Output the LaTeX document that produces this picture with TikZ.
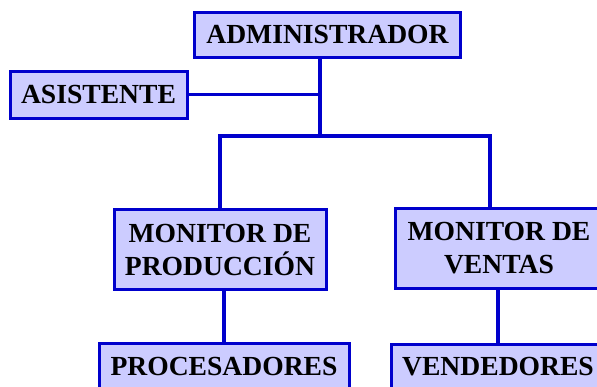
\documentclass[tikz,border=0pt]{standalone}
\usepackage{fontspec}
\setmainfont{Liberation Serif}
\usetikzlibrary{calc}
\definecolor{lineblue}{HTML}{0000CC}
\definecolor{boxfill}{HTML}{CCCCFF}
\begin{document}
\begin{tikzpicture}[x=1pt,y=-1pt,
  orgbox/.style={draw=lineblue, fill=boxfill, line width=3pt, inner sep=0pt,
    align=center, font=\fontsize{27.6}{33}\selectfont\bfseries},
  link/.style={draw=lineblue, line width=3.5pt}]
\useasboundingbox (0,0) rectangle (597,386);
\clip (0,0) rectangle (597,386);
\node[orgbox, minimum width=266pt, minimum height=45pt] (admin) at (327.5,34.5) {ADMINISTRADOR};
\node[orgbox, minimum width=177pt, minimum height=47pt] (asist) at (98.5,94.5) {ASISTENTE};
\node[orgbox, minimum width=212pt, minimum height=80pt] (prod) at (220,249.5) {MONITOR DE\\PRODUCCIÓN};
\node[orgbox, minimum width=208pt, minimum height=80pt] (ventas) at (499,248) {MONITOR DE\\VENTAS};
\node[orgbox, minimum width=250pt, minimum height=46pt] (proc) at (224,366) {PROCESADORES};
\node[orgbox, minimum width=214pt, minimum height=46pt] (vend) at (498,367) {VENDEDORES};
\coordinate (j) at (320,136);
\coordinate (vtop) at ($(ventas.north)+(-9,0)$);
\draw[link] (j |- admin.south) -- (j);
\draw[link] (asist.east) -- (asist.east -| j);
\draw[link] (prod.north) |- (j) -| (vtop);
\draw[link] (proc.north) -- (proc.north |- prod.south);
\draw[link] (vend.north) -- (vend.north |- ventas.south);
\end{tikzpicture}
\end{document}
